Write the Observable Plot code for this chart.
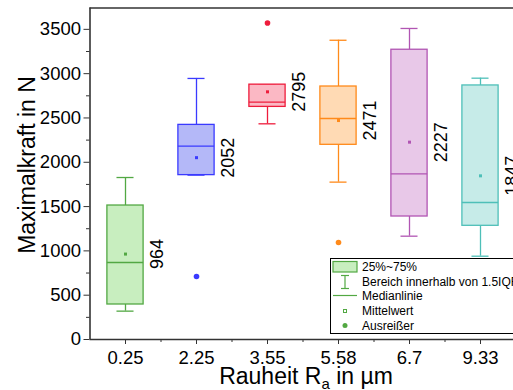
<!DOCTYPE html>
<html>
<head>
<meta charset="utf-8">
<script src="https://cdn.jsdelivr.net/npm/d3@7"></script>
<script src="https://cdn.jsdelivr.net/npm/@observablehq/plot@0.6"></script>
<style>
html,body{margin:0;padding:0;overflow:hidden;background:#fff;}
#chart{position:relative;width:513px;height:390px;overflow:hidden;font-family:'Liberation Sans', Arial, sans-serif;}
#chart svg{max-width:none !important;overflow:hidden;}
</style>
</head>
<body>
<div id="chart"></div>
<script>
// ---- data ----
const categories = ["0.25", "2.25", "3.55", "5.58", "6.7", "9.33"];
const q1 = [395, 1855, 2625, 2197, 1388, 1283];
const medians = [869, 2182, 2678, 2494, 1870, 1546];
const q3 = [1512, 2422, 2876, 2855, 3270, 2867];
const whiskerLow = [320, 1855, 2434, 1776, 1166, 940];
const whiskerHigh = [1828, 2946, 2876, 3377, 3510, 2949];
const means = [964, 2052, 2795, 2471, 2227, 1847];
const outlierCat = [1, 2, 3];
const outlierVal = [711, 3572, 1095];
const strokes = ["#52a843", "#3a3aff", "#ee1c3c", "#ff8a1a", "#b155b3", "#4ebfb8"];
const fills = ["#c8eebf", "#b4b8f8", "#fbb8c4", "#ffdab4", "#e8c8e8", "#c6ebe8"];
const yTicks = [0, 500, 1000, 1500, 2000, 2500, 3000, 3500];
const yMinor = [250, 750, 1250, 1750, 2250, 2750, 3250];
const xMinor = [0.5, 1.5, 2.5, 3.5, 4.5];
const legendLabels = ["25%~75%", "Bereich innerhalb von 1.5IQR", "Medianlinie", "Mittelwert", "Ausreißer"];

const idx = d3.range(categories.length);
const outliers = outlierCat.map((c, k) => ({c, v: outlierVal[k]}));
const yMax = 3741;
const hw = 0.255, cw = 0.12;
const axisColor = "#333";

const W = 513;
const plot = Plot.plot({
  width: W,
  height: 390,
  marginLeft: 89.5,
  marginRight: W - 515.5,
  marginTop: 7.5,
  marginBottom: 51,
  style: {fontFamily: "'Liberation Sans', Arial, sans-serif", fontSize: "18.5px", color: "#000", background: "#fff", maxWidth: "none", overflow: "hidden"},
  x: {type: "linear", domain: [-0.5, 5.5], axis: null},
  y: {type: "linear", domain: [0, yMax], axis: null},
  marks: [
    // whiskers
    Plot.ruleX(idx, {x: i => i, y1: i => whiskerLow[i], y2: i => q1[i], stroke: i => strokes[i], strokeWidth: 1.3}),
    Plot.ruleX(idx, {x: i => i, y1: i => q3[i], y2: i => whiskerHigh[i], stroke: i => strokes[i], strokeWidth: 1.3}),
    Plot.ruleY(idx, {y: i => whiskerLow[i], x1: i => i - cw, x2: i => i + cw, stroke: i => strokes[i], strokeWidth: 1.3}),
    Plot.ruleY(idx, {y: i => whiskerHigh[i], x1: i => i - cw, x2: i => i + cw, stroke: i => strokes[i], strokeWidth: 1.3}),
    // boxes
    Plot.rect(idx, {x1: i => i - hw, x2: i => i + hw, y1: i => q1[i], y2: i => q3[i], fill: i => fills[i], stroke: i => strokes[i], strokeWidth: 1.3}),
    Plot.ruleY(idx, {y: i => medians[i], x1: i => i - hw, x2: i => i + hw, stroke: i => strokes[i], strokeWidth: 1.3}),
    // means
    Plot.dot(idx, {x: i => i, y: i => means[i], symbol: "square", r: 1.7, fill: i => strokes[i]}),
    // outliers
    Plot.dot(outliers, {x: "c", y: "v", r: 2.8, fill: d => strokes[d.c]}),
    // mean labels
    Plot.text(idx, {x: i => i + 0.45, y: i => means[i], text: i => String(means[i]), rotate: -90, textAnchor: "middle", lineAnchor: "middle", fontSize: 18, fill: "#000"}),
    // frame lines
    Plot.ruleY([yMax], {stroke: axisColor, strokeWidth: 1.6}),
    Plot.ruleX([-0.5], {stroke: axisColor, strokeWidth: 1.6}),
    Plot.ruleY([0], {stroke: axisColor, strokeWidth: 1.6}),
    // axes
    Plot.axisY({ticks: yTicks, tickSize: 6, tickPadding: 3, tickFormat: d => String(d), label: null, stroke: axisColor}),
    Plot.axisY({ticks: yMinor, tickSize: 3.5, tickFormat: () => "", label: null, stroke: axisColor}),
    Plot.axisX({ticks: idx, tickSize: 5, tickPadding: 6, tickFormat: i => categories[i], label: null, stroke: axisColor}),
    Plot.axisX({ticks: xMinor, tickSize: 3, tickFormat: () => "", label: null, stroke: axisColor})
  ]
});
plot.style.maxWidth = "none";
plot.style.overflow = "hidden";
document.getElementById("chart").appendChild(plot);

// axis titles
const svg = d3.select(plot);
svg.append("text")
  .attr("transform", "translate(35,165) rotate(-90)")
  .attr("text-anchor", "middle")
  .attr("font-size", 23)
  .attr("fill", "#000")
  .text("Maximalkraft in N");
const xt = svg.append("text")
  .attr("x", 306).attr("y", 384)
  .attr("text-anchor", "middle")
  .attr("font-size", 23)
  .attr("fill", "#000");
xt.append("tspan").text("Rauheit R");
xt.append("tspan").attr("font-size", 15).attr("dy", 5).text("a");
xt.append("tspan").attr("dy", -5).text(" in µm");

// legend
const lg = svg.append("g").attr("font-size", 12).attr("text-anchor", "start");
const lc = strokes[0], lf = fills[0];
lg.append("rect").attr("x", 330.5).attr("y", 258.5).attr("width", 240).attr("height", 75)
  .attr("fill", "#fff").attr("stroke", "#000").attr("stroke-width", 1);
const rowsY = [266.7, 282, 295.5, 311, 325.5];
lg.append("rect").attr("x", 333).attr("y", 261.5).attr("width", 24).attr("height", 10.5)
  .attr("fill", lf).attr("stroke", lc).attr("stroke-width", 1.2);
lg.append("line").attr("x1", 345).attr("x2", 345).attr("y1", 275.5).attr("y2", 288.5).attr("stroke", lc).attr("stroke-width", 1.2);
lg.append("line").attr("x1", 341).attr("x2", 349).attr("y1", 275.5).attr("y2", 275.5).attr("stroke", lc).attr("stroke-width", 1.2);
lg.append("line").attr("x1", 341).attr("x2", 349).attr("y1", 288.5).attr("y2", 288.5).attr("stroke", lc).attr("stroke-width", 1.2);
lg.append("line").attr("x1", 333).attr("x2", 357).attr("y1", 295.5).attr("y2", 295.5).attr("stroke", lc).attr("stroke-width", 1.2);
lg.append("rect").attr("x", 343.5).attr("y", 309.5).attr("width", 3).attr("height", 3).attr("fill", "none").attr("stroke", lc).attr("stroke-width", 1);
lg.append("circle").attr("cx", 345).attr("cy", 325.5).attr("r", 2.5).attr("fill", lc);
legendLabels.forEach((t, k) => {
  lg.append("text").attr("x", 362).attr("y", rowsY[k]).attr("dy", "0.35em").attr("fill", "#000").attr("text-anchor", "start").text(t);
});
</script>
</body>
</html>
